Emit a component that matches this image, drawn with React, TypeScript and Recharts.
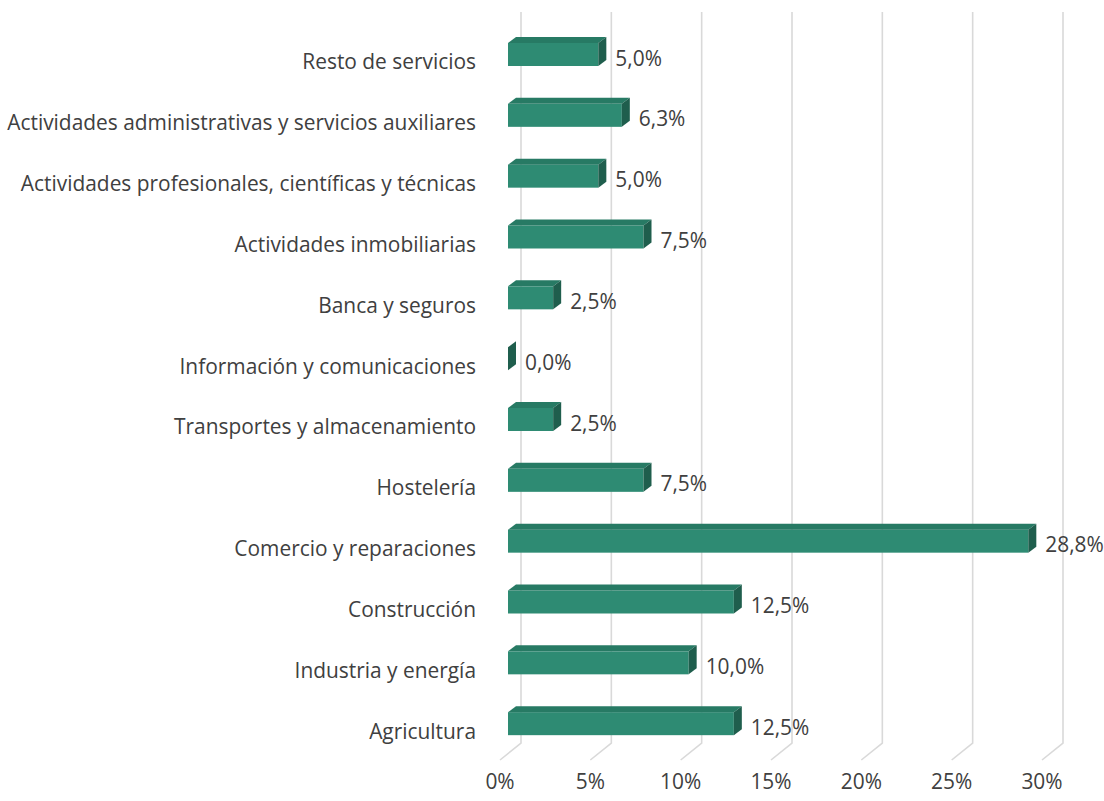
import { BarChart, Bar, XAxis, YAxis, CartesianGrid, LabelList } from "recharts"

const sectors = [
  "Resto de servicios",
  "Actividades administrativas y servicios auxiliares",
  "Actividades profesionales, científicas y técnicas",
  "Actividades inmobiliarias",
  "Banca y seguros",
  "Información y comunicaciones",
  "Transportes y almacenamiento",
  "Hostelería",
  "Comercio y reparaciones",
  "Construcción",
  "Industria y energía",
  "Agricultura",
]

const shares = [5.0, 6.3, 5.0, 7.5, 2.5, 0.0, 2.5, 7.5, 28.8, 12.5, 10.0, 12.5]

const xTicks = [0, 5, 10, 15, 20, 25, 30]

const data = sectors.map((name, i) => ({ name, value: shares[i] }))

const FONT = "'Open Sans', 'Noto Sans', sans-serif"
const TEXT = "#404040"
const FS = 20.9
const DX = 8
const DY = -6

const Box3D = (props: any) => {
  const { x, y, width, height } = props
  const r = x + width
  return (
    <g>
      {width > 0 && <rect x={x} y={y} width={width} height={height} fill="#2e8b73" />}
      {width > 0 && (
        <path d={`M${x},${y} L${x + DX},${y + DY} L${r + DX},${y + DY} L${r},${y} Z`} fill="#277a64" />
      )}
      <path
        d={`M${r},${y} L${r + DX},${y + DY} L${r + DX},${y + height + DY} L${r},${y + height} Z`}
        fill="#1f5e4d"
      />
    </g>
  )
}

const GridLine = (props: any) => {
  const { x1, y1, y2 } = props
  return (
    <path
      key={props.key ?? props.index}
      d={`M${x1 + 13},${y1 - 12} L${x1 + 13},${y2 - 11} L${x1 - 8},${y2 + 6}`}
      fill="none"
      stroke="#d9d9d9"
      strokeWidth={1.6}
    />
  )
}

const CategoryTick = (props: any) => {
  const { x, y, payload } = props
  return (
    <text x={x - 30} y={y + 7} textAnchor="end" dominantBaseline="central" fontFamily={FONT} fontSize={FS} fill={TEXT}>
      {payload.value}
    </text>
  )
}

const ValueTick = (props: any) => {
  const { x, y, payload } = props
  return (
    <text x={x - 8} y={y + 25} textAnchor="middle" dominantBaseline="central" fontFamily={FONT} fontSize={FS} fill={TEXT}>
      {payload.value}%
    </text>
  )
}

const ValueLabel = (props: any) => {
  const { x, y, width, height, value } = props
  return (
    <text
      x={x + width + 17}
      y={y + height / 2 + 3}
      dominantBaseline="central"
      fontFamily={FONT}
      fontSize={FS}
      fill={TEXT}
    >
      {Number(value).toFixed(1).replace(".", ",")}%
    </text>
  )
}

export default function App() {
  return (
    <div style={{ position: "absolute", left: 0, top: 0, background: "#fff" }}>
      <BarChart
        width={1104}
        height={801}
        data={data}
        layout="vertical"
        margin={{ top: 24, right: 54, bottom: 0, left: 0 }}
        barSize={23}
      >
        <CartesianGrid horizontal={false} vertical={GridLine} />
        <XAxis
          type="number"
          domain={[0, 30]}
          ticks={xTicks}
          axisLine={false}
          tickLine={false}
          tickSize={0}
          height={47}
          tick={<ValueTick />}
          interval={0}
        />
        <YAxis
          type="category"
          dataKey="name"
          width={508}
          axisLine={false}
          tickLine={false}
          tickSize={0}
          tick={<CategoryTick />}
          interval={0}
        />
        <Bar dataKey="value" shape={<Box3D />} isAnimationActive={false}>
          <LabelList dataKey="value" content={<ValueLabel />} />
        </Bar>
      </BarChart>
    </div>
  )
}
